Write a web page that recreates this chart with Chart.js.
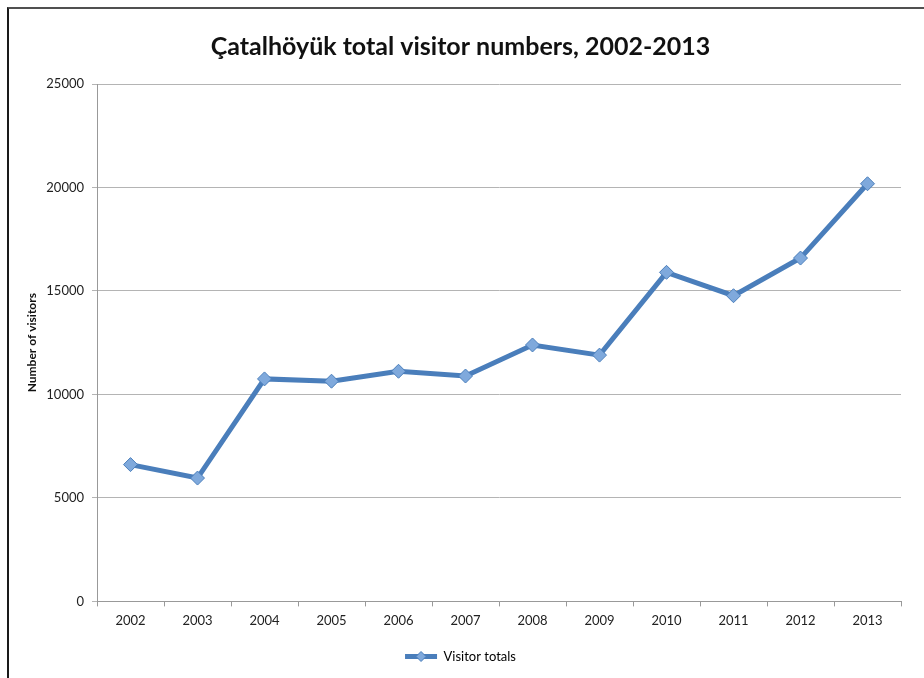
<!DOCTYPE html>
<html>
<head>
<meta charset="utf-8">
<script src="https://cdn.jsdelivr.net/npm/chart.js@4"></script>
<style>
    html, body { margin: 0; padding: 0; background: #fff; }
    #wrap { position: relative; width: 924px; height: 678px; overflow: hidden; }
    #frame {
        position: absolute; left: 7px; top: 7px; right: -10px; bottom: -10px;
        border-top: 2px solid #505050; border-left: 2px solid #1a1a1a;
        pointer-events: none;
    }
    canvas { position: absolute; left: 0; top: 0; }
</style>
</head>
<body>
<div id="wrap">
    <canvas id="visitor-chart" width="924" height="678"></canvas>
    <div id="frame"></div>
</div>
<script>
// Chart data
const years = ['2002', '2003', '2004', '2005', '2006', '2007', '2008', '2009', '2010', '2011', '2012', '2013'];
const visitorTotals = [6610, 5960, 10750, 10640, 11120, 10890, 12390, 11900, 15900, 14770, 16590, 20180];
const yTicks = [0, 5000, 10000, 15000, 20000, 25000];

const lineBlue = '#4a7ebb';
const markerBlue = '#7fa9dc';
const fontFamily = 'Lato, "Open Sans", sans-serif';

// Draw a diamond over the legend line, like the Excel legend
const legendDiamond = {
    id: 'legendDiamond',
    afterDraw(chart) {
        const legend = chart.legend;
        if (!legend || !legend.legendHitBoxes.length) return;
        const box = legend.legendHitBoxes[0];
        const boxWidth = legend.options.labels.boxWidth;
        const cx = box.left + boxWidth / 2;
        const cy = box.top + box.height / 2;
        const r = 5;
        const ctx = chart.ctx;
        ctx.save();
        ctx.beginPath();
        ctx.moveTo(cx, cy - r);
        ctx.lineTo(cx + r, cy);
        ctx.lineTo(cx, cy + r);
        ctx.lineTo(cx - r, cy);
        ctx.closePath();
        ctx.fillStyle = markerBlue;
        ctx.fill();
        ctx.lineWidth = 1;
        ctx.strokeStyle = lineBlue;
        ctx.stroke();
        ctx.restore();
    }
};

const chart = new Chart(document.getElementById('visitor-chart'), {
    type: 'line',
    data: {
        labels: years,
        datasets: [{
            label: 'Visitor totals',
            data: visitorTotals,
            borderColor: lineBlue,
            borderWidth: 5,
            backgroundColor: markerBlue,
            pointStyle: 'rectRot',
            pointRadius: 7,
            pointHoverRadius: 7,
            pointBackgroundColor: markerBlue,
            pointBorderColor: lineBlue,
            pointBorderWidth: 1,
            tension: 0
        }]
    },
    options: {
        responsive: false,
        animation: false,
        layout: {
            padding: { left: 20, right: 23, top: 0, bottom: 5 }
        },
        plugins: {
            title: {
                display: true,
                text: 'Çatalhöyük total visitor numbers, 2002-2013',
                color: '#111',
                font: { family: fontFamily, size: 25, weight: 'bold', lineHeight: 1.2 },
                padding: { top: 32, bottom: 22 }
            },
            legend: {
                position: 'bottom',
                labels: {
                    color: '#222',
                    font: { family: fontFamily, size: 13 },
                    boxWidth: 32,
                    boxHeight: 5,
                    padding: 10,
                    generateLabels: () => [{
                        text: 'Visitor totals',
                        fillStyle: lineBlue,
                        strokeStyle: lineBlue,
                        lineWidth: 0,
                        datasetIndex: 0
                    }]
                }
            },
            tooltip: { enabled: false }
        },
        scales: {
            x: {
                offset: true,
                afterFit: (scale) => {
                    scale.height += 4;
                },
                grid: {
                    offset: true,
                    drawOnChartArea: false,
                    drawTicks: true,
                    tickLength: 5,
                    color: '#999'
                },
                border: { color: '#999', width: 1 },
                ticks: {
                    color: '#222',
                    font: { family: fontFamily, size: 13 },
                    padding: 7,
                    maxRotation: 0
                }
            },
            y: {
                min: 0,
                max: 25000,
                afterBuildTicks: (scale) => {
                    scale.ticks = yTicks.map(v => ({ value: v }));
                },
                afterFit: (scale) => {
                    scale.width = 77;
                },
                grid: {
                    color: '#b4b4b4',
                    tickLength: 5,
                    lineWidth: 1
                },
                border: { color: '#999', width: 1 },
                ticks: {
                    color: '#222',
                    font: { family: fontFamily, size: 13 },
                    padding: 8,
                    callback: (value) => String(value)
                },
                title: {
                    display: true,
                    text: 'Number of visitors',
                    color: '#111',
                    font: { family: fontFamily, size: 12, weight: 'bold' },
                    padding: { top: 5, bottom: 0 }
                }
            }
        }
    },
    plugins: [legendDiamond]
});
</script>
</body>
</html>
